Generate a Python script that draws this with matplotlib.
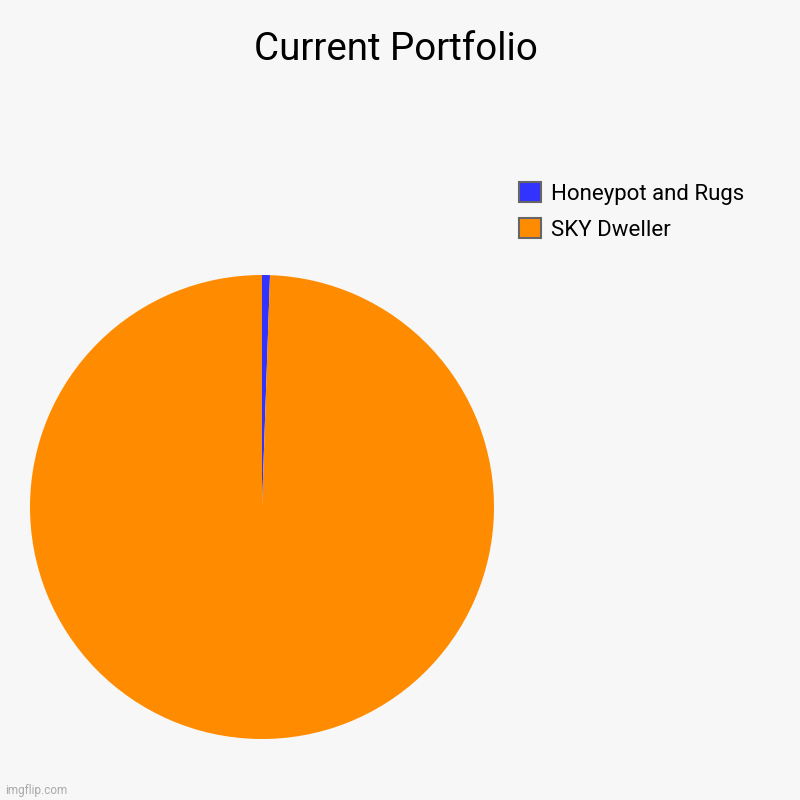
import matplotlib.pyplot as plt
from matplotlib.patches import Patch

plt.rcParams['font.family'] = ['Roboto', 'DejaVu Sans']

# data
labels = ["Honeypot and Rugs", "SKY Dweller"]
values = [0.55, 99.45]
colors = ["#3333ff", "#ff8c00"]

fig = plt.figure(figsize=(8, 8), dpi=100, facecolor="#f7f7f7")

# pie: centre ~(262, 507) px, radius ~232 px
ax = fig.add_axes([30 / 800, 61 / 800, 464 / 800, 464 / 800])
ax.set_facecolor("#f7f7f7")
ax.pie(values, colors=colors, startangle=90, counterclock=False, radius=1,
       wedgeprops=dict(linewidth=0))
ax.set_xlim(-1, 1)
ax.set_ylim(-1, 1)
ax.set_aspect("equal")
ax.axis("off")

fig.text(0.495, 0.938, "Current Portfolio", ha="center", va="center", fontsize=27.7)

handles = [Patch(facecolor=c, edgecolor="#666666", linewidth=1.5) for c in colors]
fig.legend(handles, labels, loc="upper left", bbox_to_anchor=(508 / 800, 1 - 171 / 800),
           frameon=False, fontsize=16, handlelength=1.0, handleheight=1.0,
           handletextpad=0.45, labelspacing=0.6, borderpad=0)

fig.text(5 / 800, 0.008, "imgflip.com", fontsize=8.5, color="#aaaaaa")

fig.savefig("out.png", dpi=100, facecolor=fig.get_facecolor())
